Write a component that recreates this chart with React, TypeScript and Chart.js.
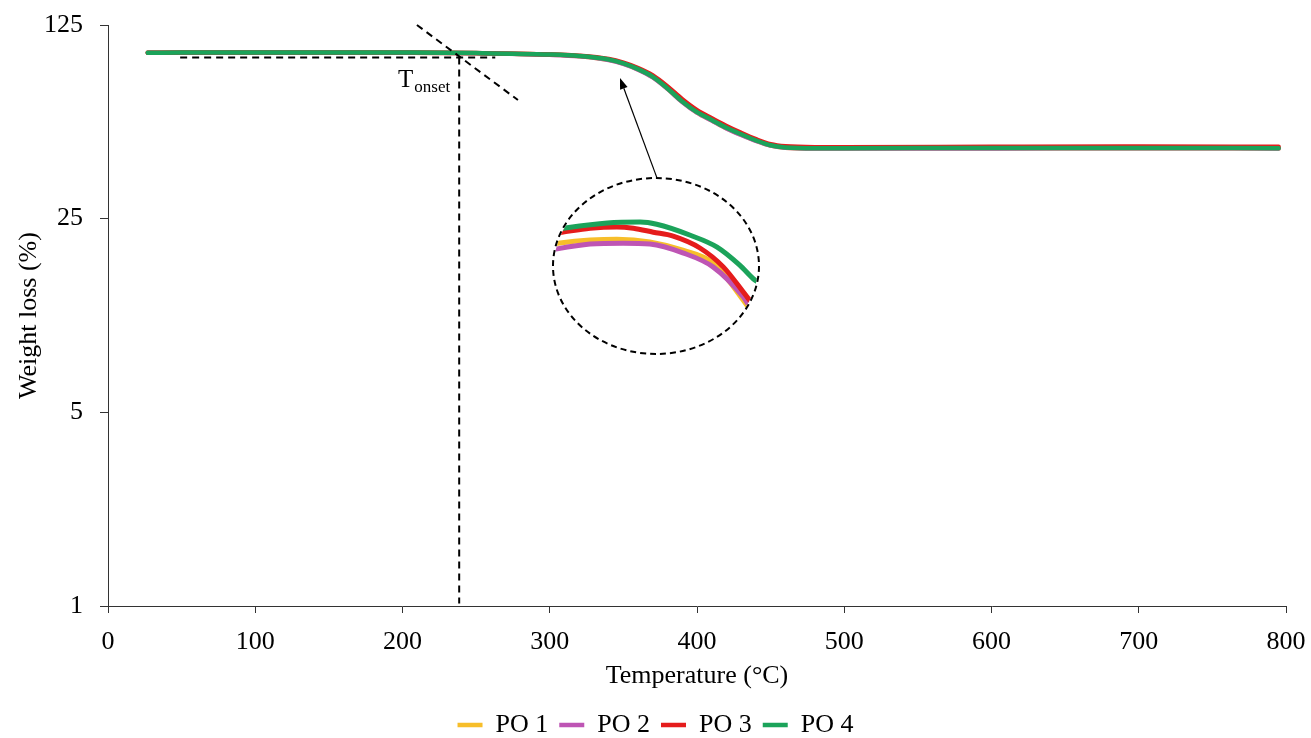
import React, { useEffect, useRef } from "react";
import { Chart, registerables } from "chart.js";

Chart.register(...registerables);

const FONT = "'Liberation Serif', 'Times New Roman', serif";

// ---- main curves ----
const TEMPS = [27, 50, 100, 150, 200, 250, 300, 320, 340, 350, 360, 370, 380, 390, 400, 410, 420, 430, 440, 450, 460, 480, 500, 600, 700, 795];
const PO1 = [99.2, 99.3, 99.4, 99.4, 99.3, 98.9, 97.7, 96.5, 93.6, 90.6, 86.4, 81.0, 73.6, 66.0, 60.4, 56.6, 53.0, 50.2, 47.8, 45.9, 45.1, 44.8, 44.8, 44.9, 44.9, 44.8];
const PO2 = [99.2, 99.3, 99.4, 99.4, 99.3, 98.9, 97.6, 96.4, 93.5, 90.5, 86.3, 80.9, 73.5, 65.9, 60.3, 56.5, 52.9, 50.1, 47.7, 45.9, 45.1, 44.8, 44.8, 44.8, 44.9, 44.8];
const PO3 = [99.3, 99.4, 99.5, 99.5, 99.4, 99.0, 97.9, 96.8, 94.2, 91.4, 87.4, 82.2, 75.0, 67.4, 61.6, 57.6, 54.0, 51.0, 48.4, 46.4, 45.6, 45.3, 45.3, 45.4, 45.5, 45.4];
const PO4 = [99.3, 99.4, 99.5, 99.5, 99.4, 99.0, 97.8, 96.6, 93.8, 90.8, 86.6, 81.2, 73.8, 66.2, 60.6, 56.8, 53.2, 50.4, 47.9, 46.0, 45.2, 44.9, 44.9, 45.0, 45.0, 44.9];

const SERIES_NAMES = ["PO 1", "PO 2", "PO 3", "PO 4"];
const SERIES_COLORS = ["#F7BE2A", "#BE55B4", "#E51C1C", "#1BA35A"];

const X_MIN = 0;
const X_MAX = 800;
const X_STEP = 100;
const Y_TICKS = [1, 5, 25, 125];

// ---- inset (zoomed view) ----
const INSET_T_PO1 = [329.85, 330.7, 335.4, 339.3, 344.1, 348.9, 353.3, 357.9, 358.5];
const INSET_W_PO1 = [94.5, 94.52, 94.59, 94.61, 94.55, 94.36, 94.07, 93.18, 93.05];
const INSET_T_PO2 = [329.7, 330.6, 335.4, 340.2, 344.1, 348.9, 353.3, 357.7, 358.4];
const INSET_W_PO2 = [94.36, 94.39, 94.5, 94.52, 94.5, 94.3, 93.98, 93.3, 93.14];
const INSET_T_PO3 = [330.4, 331.3, 335.4, 339.3, 341.7, 344.6, 347.5, 351.4, 354.8, 358.4, 359.0];
const INSET_W_PO3 = [94.75, 94.77, 94.86, 94.89, 94.86, 94.77, 94.68, 94.41, 93.98, 93.27, 93.16];
const INSET_T_PO4 = [330.7, 331.5, 337.9, 342.7, 345.1, 350.0, 353.9, 357.2, 359.4, 360.1];
const INSET_W_PO4 = [94.84, 94.86, 94.98, 95.0, 94.95, 94.7, 94.43, 94.02, 93.68, 93.61];
const INSET_X_RANGE = [329.7, 360.3];
const INSET_Y_RANGE = [91.95, 96.05];

// ---- annotations (data coordinates) ----
const BASELINE_T = [49, 263];
const BASELINE_W = 95.4;
const ONSET_T = 238.5;
const ONSET_W_BOTTOM = 1.02;
const TANGENT_T = [209.8, 278.4];
const TANGENT_W = [125, 67];
const ARROW_T = [372.8, 347.7];
const ARROW_W = [35.1, 80.5];
const LABEL_T = 197;
const LABEL_W = 74.7;
const LABEL_SUB_W = 71.6;

const annotationPlugin = {
  id: "tgaAnnotations",
  afterDatasetsDraw(chart: any) {
    const { ctx } = chart;
    const xs = chart.scales.x;
    const ys = chart.scales.y;
    const px = (v: number) => xs.getPixelForValue(v);
    const py = (v: number) => ys.getPixelForValue(v);
    const seg = (x1: number, y1: number, x2: number, y2: number) => {
      ctx.beginPath();
      ctx.moveTo(x1, y1);
      ctx.lineTo(x2, y2);
      ctx.stroke();
    };
    ctx.save();
    ctx.strokeStyle = "#000";
    ctx.lineWidth = 2;
    ctx.setLineDash([7, 5]);
    seg(px(BASELINE_T[0]), py(BASELINE_W), px(BASELINE_T[1]), py(BASELINE_W));
    seg(px(ONSET_T), py(BASELINE_W), px(ONSET_T), py(ONSET_W_BOTTOM));
    seg(px(TANGENT_T[0]), py(TANGENT_W[0]), px(TANGENT_T[1]), py(TANGENT_W[1]));
    ctx.setLineDash([]);

    // arrow
    const x1 = px(ARROW_T[0]);
    const y1 = py(ARROW_W[0]);
    const x2 = px(ARROW_T[1]);
    const y2 = py(ARROW_W[1]);
    ctx.lineWidth = 1.2;
    const ang = Math.atan2(y2 - y1, x2 - x1);
    const headLen = 11;
    const headW = 4;
    const bx = x2 - Math.cos(ang) * headLen;
    const by = y2 - Math.sin(ang) * headLen;
    seg(x1, y1, bx, by);
    ctx.fillStyle = "#000";
    ctx.beginPath();
    ctx.moveTo(x2, y2);
    ctx.lineTo(bx + Math.sin(ang) * headW, by - Math.cos(ang) * headW);
    ctx.lineTo(bx - Math.sin(ang) * headW, by + Math.cos(ang) * headW);
    ctx.closePath();
    ctx.fill();

    // T_onset label
    ctx.fillStyle = "#000";
    ctx.textAlign = "left";
    ctx.textBaseline = "alphabetic";
    ctx.font = `25px ${FONT}`;
    const tx = px(LABEL_T);
    ctx.fillText("T", tx, py(LABEL_W));
    const tw = ctx.measureText("T").width;
    ctx.font = `17px ${FONT}`;
    ctx.fillText("onset", tx + tw + 1, py(LABEL_SUB_W));
    ctx.restore();
  },
};

const ellipsePlugin = {
  id: "insetEllipse",
  beforeDatasetsDraw(chart: any) {
    const { ctx, width, height } = chart;
    ctx.save();
    ctx.beginPath();
    ctx.ellipse(width / 2, height / 2, width / 2 - 3, height / 2 - 3, 0, 0, Math.PI * 2);
    ctx.clip();
  },
  afterDatasetsDraw(chart: any) {
    const { ctx, width, height } = chart;
    ctx.restore();
    ctx.save();
    ctx.strokeStyle = "#000";
    ctx.lineWidth = 2;
    ctx.setLineDash([6, 4]);
    ctx.beginPath();
    ctx.ellipse(width / 2, height / 2, width / 2 - 2, height / 2 - 2, 0, 0, Math.PI * 2);
    ctx.stroke();
    ctx.restore();
  },
};

const zeroPadding = (s: any) => {
  s.paddingTop = 0;
  s.paddingBottom = 0;
  s.paddingLeft = 0;
  s.paddingRight = 0;
};

export default function App() {
  const mainRef = useRef<HTMLCanvasElement>(null);
  const insetRef = useRef<HTMLCanvasElement>(null);

  useEffect(() => {
    document.body.style.margin = "0";
    const font = { family: FONT, size: 26 };
    const seriesValues = [PO1, PO2, PO3, PO4];
    const drawOrder = [4, 3, 2, 1];

    const main = new Chart(mainRef.current as HTMLCanvasElement, {
      type: "line",
      data: {
        labels: TEMPS,
        datasets: seriesValues.map((vals, i) => ({
          label: SERIES_NAMES[i],
          data: TEMPS.map((t, j) => ({ x: t, y: vals[j] })),
          borderColor: SERIES_COLORS[i],
          backgroundColor: SERIES_COLORS[i],
          borderWidth: 4.5,
          pointRadius: 0,
          borderCapStyle: "round",
          borderJoinStyle: "round",
          cubicInterpolationMode: "monotone",
          order: drawOrder[i],
        })),
      },
      options: {
        animation: false,
        responsive: false,
        maintainAspectRatio: false,
        layout: { padding: { left: 25, right: 25, top: 25, bottom: 0 } },
        scales: {
          x: {
            type: "linear",
            min: X_MIN,
            max: X_MAX,
            ticks: { stepSize: X_STEP, font, color: "#000", padding: 14, maxRotation: 0 },
            grid: { display: true, drawOnChartArea: false, tickLength: 7, color: "#333" },
            border: { display: true, color: "#333", width: 1 },
            title: {
              display: true,
              text: "Temperature (°C)",
              font,
              color: "#000",
              padding: { top: 0, bottom: 9 },
            },
            afterFit: (s: any) => {
              s.height = 95;
              zeroPadding(s);
            },
          },
          y: {
            type: "logarithmic",
            min: Y_TICKS[0],
            max: Y_TICKS[Y_TICKS.length - 1],
            afterBuildTicks: (s: any) => {
              s.ticks = Y_TICKS.map((v) => ({ value: v }));
            },
            ticks: {
              font,
              color: "#000",
              padding: 17,
              autoSkip: false,
              callback: (v: any) => String(v),
            },
            grid: { display: true, drawOnChartArea: false, tickLength: 8, color: "#333" },
            border: { display: true, color: "#333", width: 1 },
            title: {
              display: true,
              text: "Weight loss (%)",
              font,
              color: "#000",
              padding: { top: -11, bottom: 0 },
            },
            afterFit: (s: any) => {
              s.width = 83;
              zeroPadding(s);
            },
          },
        },
        plugins: {
          legend: {
            display: true,
            position: "bottom",
            labels: {
              font,
              color: "#000",
              usePointStyle: true,
              pointStyle: "line",
              pointStyleWidth: 25,
              boxHeight: 4,
              padding: 11,
              sort: (a: any, b: any) => a.datasetIndex - b.datasetIndex,
            },
          },
          tooltip: { enabled: false },
        },
      },
      plugins: [annotationPlugin],
    } as any);

    const insetT = [INSET_T_PO1, INSET_T_PO2, INSET_T_PO3, INSET_T_PO4];
    const insetW = [INSET_W_PO1, INSET_W_PO2, INSET_W_PO3, INSET_W_PO4];
    const inset = new Chart(insetRef.current as HTMLCanvasElement, {
      type: "line",
      data: {
        datasets: insetT.map((ts, i) => ({
          label: SERIES_NAMES[i],
          data: ts.map((t, j) => ({ x: t, y: insetW[i][j] })),
          borderColor: SERIES_COLORS[i],
          backgroundColor: SERIES_COLORS[i],
          borderWidth: 5,
          pointRadius: 0,
          cubicInterpolationMode: "monotone",
          order: drawOrder[i],
        })),
      },
      options: {
        animation: false,
        responsive: false,
        maintainAspectRatio: false,
        layout: { padding: 0 },
        scales: {
          x: { type: "linear", display: false, min: INSET_X_RANGE[0], max: INSET_X_RANGE[1] },
          y: { type: "linear", display: false, min: INSET_Y_RANGE[0], max: INSET_Y_RANGE[1] },
        },
        plugins: { legend: { display: false }, tooltip: { enabled: false } },
      },
      plugins: [ellipsePlugin],
    } as any);

    return () => {
      main.destroy();
      inset.destroy();
    };
  }, []);

  return (
    <div style={{ position: "relative", width: 1311, height: 738, overflow: "hidden", background: "#fff" }}>
      <canvas ref={mainRef} width={1311} height={748} style={{ position: "absolute", left: 0, top: 0 }} />
      <canvas ref={insetRef} width={210} height={180} style={{ position: "absolute", left: 551, top: 176 }} />
    </div>
  );
}
